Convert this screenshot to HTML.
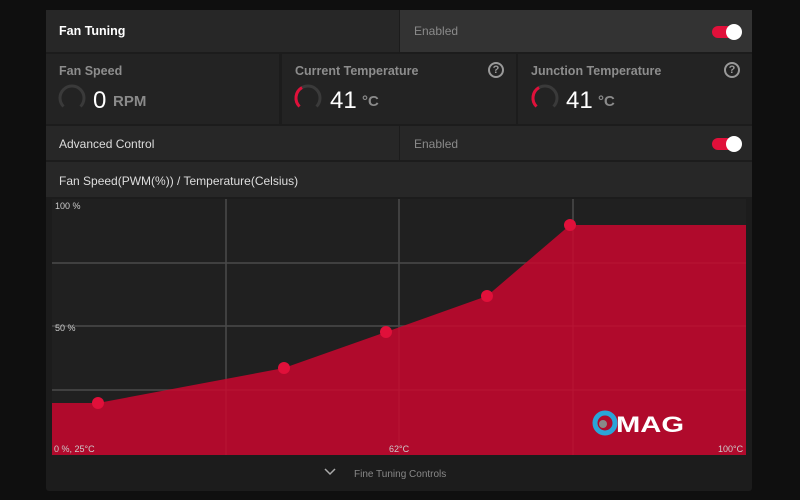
<!DOCTYPE html>
<html><head><meta charset="utf-8"><style>
*{margin:0;padding:0;box-sizing:border-box}
body{width:800px;height:500px;background:#0f0f0f;font-family:"Liberation Sans",sans-serif;position:relative;overflow:hidden}
.a{position:absolute}
.t{color:#fff;font-size:12.5px}
.g{color:#8a8a8a}
.tog{position:absolute;width:28px;height:12px;border-radius:6px;background:#e0103a}
.tog::after{content:"";position:absolute;right:-2px;top:-2px;width:16px;height:16px;border-radius:50%;background:#fff}
.q{position:absolute;width:16px;height:16px;border:2px solid #999;border-radius:50%;color:#999;font-size:11px;font-weight:bold;text-align:center;line-height:12px}
.lab{color:#8d8d8d;font-size:12.5px;font-weight:bold}
.big{color:#fff;font-size:24px}
.unit{color:#8a8a8a;font-size:15px;font-weight:bold}
</style></head><body>
<div class="a" style="left:46px;top:10px;width:706px;height:481px;background:#1c1c1c;border-radius:3px"></div>
<div class="a" style="left:46px;top:10px;width:353px;height:42px;background:#272727"></div>
<div class="a" style="left:400px;top:10px;width:352px;height:42px;background:#333"></div>
<div class="a t" style="left:59px;top:24px;font-weight:bold">Fan Tuning</div>
<div class="a g" style="left:414px;top:24px;font-size:12px">Enabled</div>
<div class="tog" style="left:712px;top:26px"></div>
<div class="a" style="left:46px;top:54px;width:233px;height:70px;background:#232323"></div>
<div class="a" style="left:282px;top:54px;width:234px;height:70px;background:#232323"></div>
<div class="a" style="left:518px;top:54px;width:234px;height:70px;background:#232323"></div>
<div class="a lab" style="left:59px;top:64px">Fan Speed</div>
<div class="a lab" style="left:295px;top:64px">Current Temperature</div>
<div class="a lab" style="left:531px;top:64px">Junction Temperature</div>
<div class="q" style="left:488px;top:62px">?</div>
<div class="q" style="left:724px;top:62px">?</div>
<svg class="a" style="left:0;top:0" width="800" height="500">
<g fill="none" stroke="#3a3a3a" stroke-width="3">
<path d="M63.5 106.5 A12 12 0 1 1 80.5 106.5"/>
<path d="M299.5 106.5 A12 12 0 1 1 316.5 106.5"/>
<path d="M536.5 106.5 A12 12 0 1 1 553.5 106.5"/>
</g>
<g fill="none" stroke="#e0103a" stroke-width="3">
<path d="M299.5 106.5 A12 12 0 0 1 302 87.6"/>
<path d="M536.5 106.5 A12 12 0 0 1 539 87.6"/>
</g>
</svg>
<div class="a big" style="left:93px;top:87px">0</div>
<div class="a unit" style="left:113px;top:93px">RPM</div>
<div class="a big" style="left:330px;top:87px">41</div>
<div class="a unit" style="left:362px;top:93px">°C</div>
<div class="a big" style="left:566px;top:87px">41</div>
<div class="a unit" style="left:598px;top:93px">°C</div>
<div class="a" style="left:46px;top:126px;width:353px;height:34px;background:#272727"></div>
<div class="a" style="left:400px;top:126px;width:352px;height:34px;background:#272727"></div>
<div class="a t" style="left:59px;top:137px;color:#ddd;font-size:12px">Advanced Control</div>
<div class="a g" style="left:414px;top:137px;font-size:12px">Enabled</div>
<div class="tog" style="left:712px;top:138px"></div>
<div class="a" style="left:46px;top:162px;width:706px;height:35px;background:#272727"></div>
<div class="a t" style="left:59px;top:174px;color:#ddd;font-size:12px">Fan Speed(PWM(%)) / Temperature(Celsius)</div>
<svg class="a" style="left:0;top:0" width="800" height="500">
<defs><clipPath id="c"><polygon points="52,403 98,403 284,368 386,332 487,296 570,225 746,225 746,455 52,455"/></clipPath></defs>
<rect x="52" y="199" width="694" height="256" fill="#202020"/>
<g stroke="#4a4a4a" stroke-width="1.5">
<line x1="52" y1="263" x2="746" y2="263"/><line x1="52" y1="326" x2="746" y2="326"/><line x1="52" y1="390" x2="746" y2="390"/>
<line x1="226" y1="199" x2="226" y2="455"/><line x1="399" y1="199" x2="399" y2="455"/><line x1="573" y1="199" x2="573" y2="455"/>
</g>
<polygon points="52,403 98,403 284,368 386,332 487,296 570,225 746,225 746,455 52,455" fill="#b00a2c"/>
<g stroke="#c0203f" stroke-width="1" opacity="0.5" clip-path="url(#c)">
<line x1="52" y1="263" x2="746" y2="263"/><line x1="52" y1="326" x2="746" y2="326"/><line x1="52" y1="390" x2="746" y2="390"/>
<line x1="226" y1="199" x2="226" y2="455"/><line x1="399" y1="199" x2="399" y2="455"/><line x1="573" y1="199" x2="573" y2="455"/>
</g>
<g fill="#e0103a"><circle cx="98" cy="403" r="6"/><circle cx="284" cy="368" r="6"/><circle cx="386" cy="332" r="6"/><circle cx="487" cy="296" r="6"/><circle cx="570" cy="225" r="6"/></g>
<g font-family="Liberation Sans" font-size="9" fill="#ccc">
<text x="55" y="209">100 %</text><text x="55" y="331">50 %</text>
<text x="54" y="452">0 %, 25°C</text><text x="389" y="452">62°C</text><text x="718" y="452">100°C</text></g>
<circle cx="605" cy="423" r="10" fill="none" stroke="#2aa5d8" stroke-width="5"/>
<circle cx="603" cy="424" r="4" fill="#888"/>
<text x="616" y="432" font-family="Liberation Sans" font-size="22" font-weight="bold" fill="#fff" textLength="68" lengthAdjust="spacingAndGlyphs">MAG</text>
<path d="M325 469 L330 474 L335 469" fill="none" stroke="#aaa" stroke-width="1.5"/>
<text x="354" y="477" font-family="Liberation Sans" font-size="10" fill="#888">Fine Tuning Controls</text>
</svg>
</body></html>
